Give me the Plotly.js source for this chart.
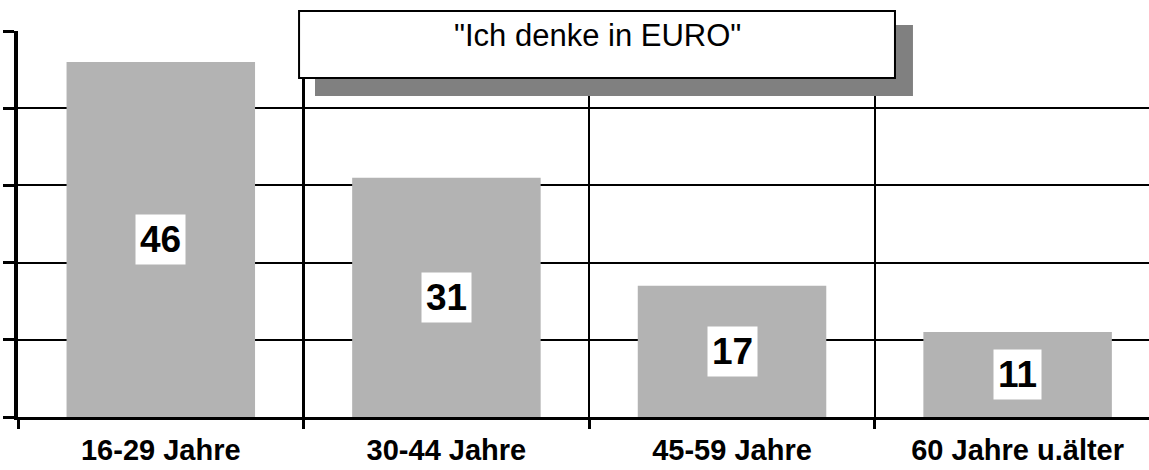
<!DOCTYPE html>
<html>
<head>
<meta charset="utf-8">
<script src="https://cdn.plot.ly/plotly-3.0.1.min.js"></script>
<style>
  html, body { margin: 0; padding: 0; background: #fff; }
  #chart { width: 1149px; height: 470px; }
</style>
</head>
<body>
<div id="chart"></div>
<script>
// age groups and share (%) who "think in EURO"
const categories = ["16-29 Jahre", "30-44 Jahre", "45-59 Jahre", "60 Jahre u.älter"];
const values = [46, 31, 17, 11];
const chartTitle = '"Ich denke in EURO"';

const FONT = "Liberation Sans, Arial, sans-serif";

const barTrace = {
  type: "bar",
  x: categories,
  y: values,
  width: 0.66,
  marker: { color: "#b3b3b3", line: { width: 0 } },
  hoverinfo: "x+y",
};

// white value boxes in the middle of each bar
const valueLabels = categories.map((c, i) => ({
  x: c,
  y: values[i] / 2,
  xref: "x",
  yref: "y",
  text: "<b>" + values[i] + "</b>",
  showarrow: false,
  bgcolor: "#ffffff",
  borderpad: 4,
  font: { family: FONT, size: 37, color: "#000" },
}));

const layout = {
  width: 1149,
  height: 470,
  paper_bgcolor: "#fff",
  plot_bgcolor: "#fff",
  showlegend: false,
  margin: { l: 18, r: 0, t: 31, b: 53 },
  font: { family: FONT, color: "#000" },
  xaxis: {
    type: "category",
    range: [-0.5, 3.46],
    tickson: "boundaries",
    ticks: "outside",
    ticklen: 9,
    tickwidth: 3,
    tickcolor: "#000",
    ticklabelstandoff: 5,
    showgrid: true,
    gridcolor: "#000",
    gridwidth: 2.5,
    showline: true,
    linecolor: "#000",
    linewidth: 3,
    tickfont: { family: FONT, size: 29, color: "#000", weight: "bold" },
    fixedrange: true,
  },
  yaxis: {
    range: [0, 50],
    dtick: 10,
    showticklabels: false,
    ticks: "outside",
    ticklen: 11,
    tickwidth: 3,
    tickcolor: "#000",
    showgrid: true,
    gridcolor: "#000",
    gridwidth: 2,
    zeroline: false,
    showline: true,
    linecolor: "#000",
    linewidth: 4,
    fixedrange: true,
  },
  shapes: [
    // shadow of the title box
    {
      type: "rect", xref: "paper", yref: "paper", layer: "above",
      x0: 0.2626, x1: 0.7913, y0: 0.8316, y1: 1.0155,
      fillcolor: "#808080", line: { width: 0 },
    },
    // title box
    {
      type: "rect", xref: "paper", yref: "paper", layer: "above",
      x0: 0.2485, x1: 0.7754, y0: 0.8782, y1: 1.0518,
      fillcolor: "#ffffff", line: { color: "#000", width: 2 },
    },
  ],
  annotations: valueLabels.concat([
    {
      xref: "paper", yref: "paper",
      x: 0.512, y: 0.9896,
      xanchor: "center", yanchor: "middle",
      text: chartTitle,
      showarrow: false,
      font: { family: FONT, size: 31, color: "#000" },
    },
  ]),
};

Plotly.newPlot("chart", [barTrace], layout, { displayModeBar: false, staticPlot: true });
</script>
</body>
</html>
